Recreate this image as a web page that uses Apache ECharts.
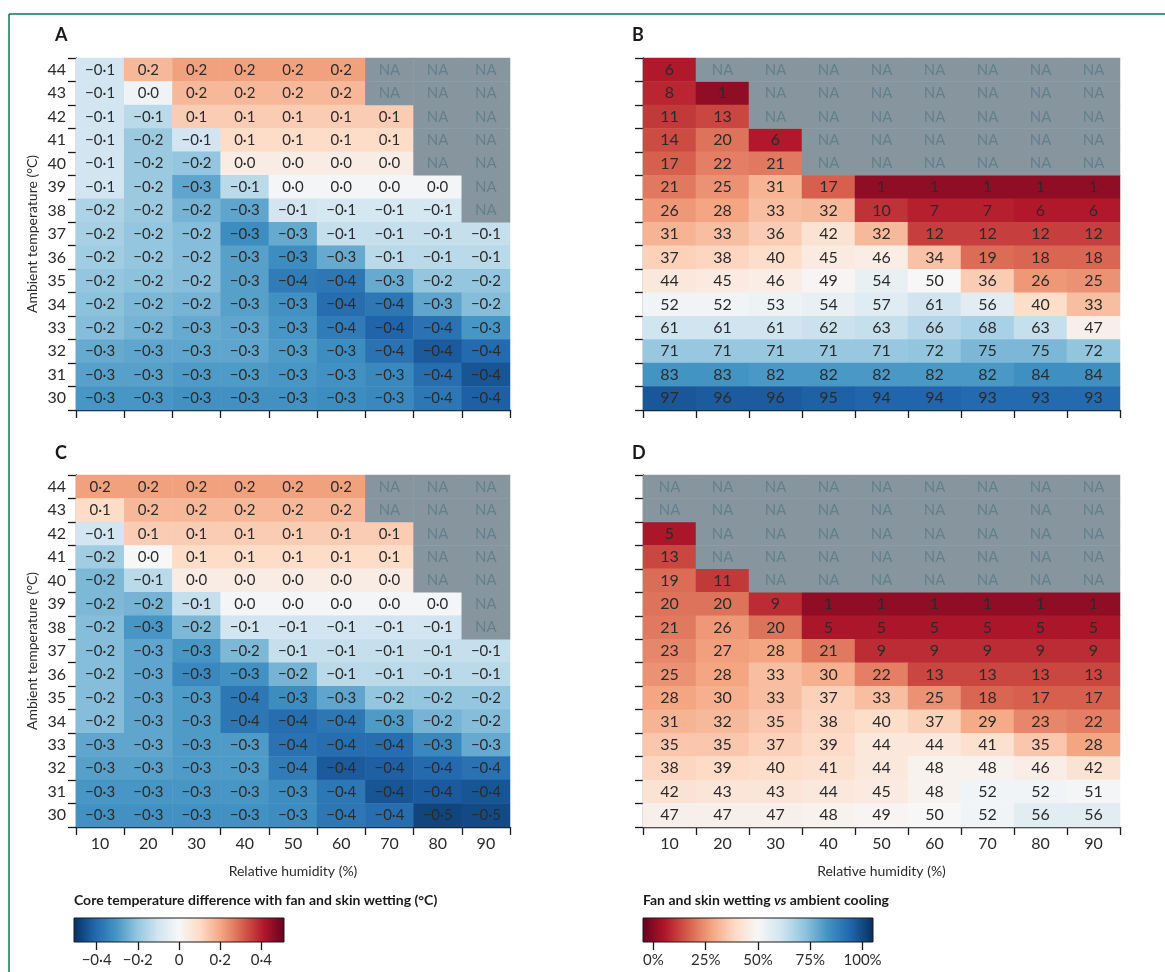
<!DOCTYPE html>
<html>
<head>
<meta charset="utf-8">
<script src="https://cdn.jsdelivr.net/npm/echarts@6/dist/echarts.min.js"></script>
<style>
html,body{margin:0;padding:0;background:#fff;}
#chart{width:1165px;height:972px;}
</style>
</head>
<body>
<div id="chart"></div>
<script>
// ---------- data ----------
const humidity = ['10','20','30','40','50','60','70','80','90'];
const temperatures = ['30','31','32','33','34','35','36','37','38','39','40','41','42','43','44']; // bottom -> top

// Panel A: core temperature difference (°C), rows 44 -> 30, null = NA
const panelA = [
  [-0.10, 0.17, 0.21, 0.21, 0.21, 0.21, null, null, null],
  [-0.10,-0.02, 0.17, 0.17, 0.17, 0.17, null, null, null],
  [-0.10,-0.14, 0.13, 0.13, 0.13, 0.13, 0.13, null, null],
  [-0.10,-0.19,-0.10, 0.10, 0.10, 0.10, 0.10, null, null],
  [-0.10,-0.19,-0.20, 0.04, 0.04, 0.04, 0.04, null, null],
  [-0.10,-0.19,-0.27,-0.14,-0.01,-0.01,-0.01,-0.01, null],
  [-0.16,-0.19,-0.24,-0.27,-0.10,-0.09,-0.09,-0.09, null],
  [-0.17,-0.20,-0.22,-0.32,-0.26,-0.12,-0.12,-0.12,-0.12],
  [-0.18,-0.20,-0.22,-0.28,-0.32,-0.26,-0.14,-0.14,-0.14],
  [-0.20,-0.21,-0.22,-0.28,-0.36,-0.37,-0.26,-0.20,-0.20],
  [-0.21,-0.23,-0.24,-0.28,-0.31,-0.39,-0.37,-0.27,-0.22],
  [-0.22,-0.24,-0.26,-0.27,-0.30,-0.36,-0.41,-0.38,-0.30],
  [-0.26,-0.27,-0.27,-0.27,-0.29,-0.32,-0.38,-0.43,-0.40],
  [-0.28,-0.28,-0.29,-0.29,-0.30,-0.31,-0.33,-0.39,-0.44],
  [-0.30,-0.30,-0.31,-0.31,-0.31,-0.32,-0.33,-0.37,-0.42]
];

// Panel B: fan and skin wetting vs ambient cooling (%), rows 44 -> 30
const panelB = [
  [ 6,null,null,null,null,null,null,null,null],
  [ 8,  1,null,null,null,null,null,null,null],
  [11, 13,null,null,null,null,null,null,null],
  [14, 20,  6,null,null,null,null,null,null],
  [17, 22, 21,null,null,null,null,null,null],
  [21, 25, 31, 17,  1,  1,  1,  1,  1],
  [26, 28, 33, 32, 10,  7,  7,  6,  6],
  [31, 33, 36, 42, 32, 12, 12, 12, 12],
  [37, 38, 40, 45, 46, 34, 19, 18, 18],
  [44, 45, 46, 49, 54, 50, 36, 26, 25],
  [52, 52, 53, 54, 57, 61, 56, 40, 33],
  [61, 61, 61, 62, 63, 66, 68, 63, 47],
  [71, 71, 71, 71, 71, 72, 75, 75, 72],
  [83, 83, 82, 82, 82, 82, 82, 84, 84],
  [97, 96, 96, 95, 94, 94, 93, 93, 93]
];

// Panel C: core temperature difference (°C), rows 44 -> 30
const panelC = [
  [ 0.21, 0.21, 0.21, 0.21, 0.21, 0.21, null, null, null],
  [ 0.10, 0.17, 0.17, 0.17, 0.17, 0.17, null, null, null],
  [-0.10, 0.13, 0.13, 0.13, 0.13, 0.13, 0.13, null, null],
  [-0.18, 0.00, 0.10, 0.10, 0.10, 0.10, 0.10, null, null],
  [-0.23,-0.14, 0.04, 0.04, 0.04, 0.04, 0.04, null, null],
  [-0.23,-0.24,-0.12,-0.01,-0.01,-0.01,-0.01,-0.01, null],
  [-0.22,-0.30,-0.23,-0.10,-0.10,-0.10,-0.10,-0.10, null],
  [-0.22,-0.27,-0.30,-0.23,-0.12,-0.12,-0.12,-0.12,-0.12],
  [-0.22,-0.27,-0.33,-0.31,-0.24,-0.14,-0.14,-0.14,-0.14],
  [-0.22,-0.27,-0.29,-0.37,-0.32,-0.27,-0.20,-0.20,-0.20],
  [-0.22,-0.27,-0.29,-0.37,-0.39,-0.37,-0.29,-0.24,-0.22],
  [-0.27,-0.27,-0.29,-0.29,-0.38,-0.39,-0.39,-0.33,-0.26],
  [-0.28,-0.28,-0.29,-0.29,-0.36,-0.43,-0.42,-0.40,-0.38],
  [-0.30,-0.30,-0.30,-0.30,-0.32,-0.37,-0.44,-0.43,-0.44],
  [-0.31,-0.31,-0.31,-0.31,-0.32,-0.37,-0.39,-0.47,-0.46]
];

// Panel D: fan and skin wetting vs ambient cooling (%), rows 44 -> 30
const panelD = [
  [null,null,null,null,null,null,null,null,null],
  [null,null,null,null,null,null,null,null,null],
  [ 5,null,null,null,null,null,null,null,null],
  [13,null,null,null,null,null,null,null,null],
  [19, 11,null,null,null,null,null,null,null],
  [20, 20,  9,  1,  1,  1,  1,  1,  1],
  [21, 26, 20,  5,  5,  5,  5,  5,  5],
  [23, 27, 28, 21,  9,  9,  9,  9,  9],
  [25, 28, 33, 30, 22, 13, 13, 13, 13],
  [28, 30, 33, 37, 33, 25, 18, 17, 17],
  [31, 32, 35, 38, 40, 37, 29, 23, 22],
  [35, 35, 37, 39, 44, 44, 41, 35, 28],
  [38, 39, 40, 41, 44, 48, 48, 46, 42],
  [42, 43, 43, 44, 45, 48, 52, 52, 51],
  [47, 47, 47, 48, 49, 50, 52, 56, 56]
];

const diffTicks = [-0.4, -0.2, 0, 0.2, 0.4];
const pctTicks = [0, 25, 50, 75, 100];
const diffRange = [-0.51, 0.51];
const pctRange = [-5, 105];

// ---------- helpers ----------
const RdBu = ['#67001f','#b2182b','#d6604d','#f4a582','#fddbc7','#f7f7f7','#d1e5f0','#92c5de','#4393c3','#2166ac','#053061'];
const BuRd = RdBu.slice().reverse();
const FONT = 'Lato, "Noto Sans", sans-serif';
const TXT = '#2b2b2b';
const AX = '#1a1a1a';

function split(rows){
  const v = [], na = [];
  rows.forEach((row, r) => row.forEach((val, c) => {
    const y = rows.length - 1 - r;
    if (val === null) na.push([c, y, 0]); else v.push([c, y, val]);
  }));
  return {v, na};
}
function fmtDiff(x){
  let s = (Math.round(x * 10) / 10).toFixed(1);
  if (s === '-0.0') s = '0.0';
  return s.replace('-', '\u2212').replace('.', '\u00b7');
}
function fmtTick(x){
  if (x === 0) return '0';
  return String(x).replace('-', '\u2212').replace('.', '\u00b7');
}

const A = split(panelA), B = split(panelB), C = split(panelC), D = split(panelD);

const mainGrids = [
  {left: 76,  top: 58,  width: 434, height: 352},
  {left: 643, top: 58,  width: 477, height: 352},
  {left: 76,  top: 475, width: 434, height: 352},
  {left: 643, top: 475, width: 477, height: 352}
];
const cbGrids = [
  {left: 74,  top: 918, width: 210, height: 24},
  {left: 643, top: 918, width: 230, height: 24}
];

const lineStyle = {color: AX, width: 1.3};
const xAxes = mainGrids.map((g, i) => ({
  type: 'category', gridIndex: i, data: humidity,
  axisLine: {show: true, lineStyle},
  axisTick: {show: true, length: 8, lineStyle},
  axisLabel: {show: i >= 2, fontSize: 16, color: TXT, fontFamily: FONT, margin: 9},
  splitLine: {show: false},
  name: i >= 2 ? 'Relative humidity (%)' : '',
  nameLocation: 'middle', nameGap: 37,
  nameTextStyle: {fontSize: 14, color: TXT, fontFamily: FONT}
}));
const yAxes = mainGrids.map((g, i) => ({
  type: 'category', gridIndex: i, data: temperatures,
  axisLine: {show: true, lineStyle},
  axisTick: {show: true, length: 8, lineStyle},
  axisLabel: {show: i % 2 === 0, fontSize: 16, color: TXT, fontFamily: FONT, margin: 10},
  splitLine: {show: false},
  name: i % 2 === 0 ? 'Ambient temperature (\u00b0C)' : '',
  nameLocation: 'middle', nameGap: 37, nameRotate: 90,
  nameTextStyle: {fontSize: 14, color: TXT, fontFamily: FONT}
}));
// colorbar axes
xAxes.push({
  type: 'value', gridIndex: 4, min: diffRange[0], max: diffRange[1],
  axisLine: {show: false}, splitLine: {show: false},
  axisTick: {show: true, length: 8, customValues: diffTicks, lineStyle},
  axisLabel: {show: true, customValues: diffTicks, formatter: fmtTick, fontSize: 15, color: TXT, fontFamily: FONT, margin: 11}
});
xAxes.push({
  type: 'value', gridIndex: 5, min: pctRange[0], max: pctRange[1],
  axisLine: {show: false}, splitLine: {show: false},
  axisTick: {show: true, length: 8, customValues: pctTicks, lineStyle},
  axisLabel: {show: true, customValues: pctTicks, formatter: v => v + '%', fontSize: 15, color: TXT, fontFamily: FONT, margin: 11}
});
yAxes.push({type: 'value', gridIndex: 4, min: 0, max: 1, show: false});
yAxes.push({type: 'value', gridIndex: 5, min: 0, max: 1, show: false});

function valSeries(idx, data, formatter, fs){
  return {
    type: 'heatmap', xAxisIndex: idx, yAxisIndex: idx, data,
    itemStyle: {borderWidth: 0},
    emphasis: {disabled: true},
    label: {show: true, formatter: p => formatter(p.value[2]), color: TXT, fontSize: fs, fontFamily: FONT}
  };
}
function naSeries(idx, data, fs){
  return {
    type: 'heatmap', xAxisIndex: idx, yAxisIndex: idx, data,
    itemStyle: {color: '#87969e', borderWidth: 0},
    emphasis: {disabled: true},
    label: {show: true, formatter: 'NA', color: '#62808b', fontSize: fs, fontFamily: FONT}
  };
}
function barSeries(idx, range, colors){
  const stops = colors.map((c, k) => ({offset: k / (colors.length - 1), color: c}));
  return {
    type: 'custom', xAxisIndex: idx, yAxisIndex: idx, data: [[range[0], range[1]]],
    silent: true,
    renderItem: (params, api) => {
      const p0 = api.coord([api.value(0), 0]);
      const p1 = api.coord([api.value(1), 1]);
      return {
        type: 'rect',
        shape: {x: p0[0], y: p1[1], width: p1[0] - p0[0], height: p0[1] - p1[1]},
        style: {fill: new echarts.graphic.LinearGradient(0, 0, 1, 0, stops), stroke: AX, lineWidth: 1}
      };
    }
  };
}
const fmtPct = v => String(v);

const series = [
  valSeries(0, A.v, fmtDiff, 15), naSeries(0, A.na, 15),
  valSeries(1, B.v, fmtPct, 16),  naSeries(1, B.na, 15),
  valSeries(2, C.v, fmtDiff, 15), naSeries(2, C.na, 15),
  valSeries(3, D.v, fmtPct, 16),  naSeries(3, D.na, 15),
  barSeries(4, diffRange, BuRd),
  barSeries(5, pctRange, RdBu)
];

const letter = (t, x, y) => ({type: 'text', left: x, top: y, style: {text: t, font: 'bold 18px ' + FONT, fill: '#1a1a1a'}});

const option = {
  animation: false,
  backgroundColor: '#fff',
  grid: mainGrids.concat(cbGrids),
  xAxis: xAxes,
  yAxis: yAxes,
  visualMap: [
    {type: 'continuous', show: false, min: diffRange[0], max: diffRange[1], dimension: 2, seriesIndex: [0, 4], inRange: {color: BuRd}},
    {type: 'continuous', show: false, min: pctRange[0], max: pctRange[1], dimension: 2, seriesIndex: [2, 6], inRange: {color: RdBu}}
  ],
  series,
  graphic: [
    {type: 'line', shape: {x1: 9, y1: 14, x2: 1165, y2: 14}, style: {stroke: '#0b7a4b', lineWidth: 1.5}},
    {type: 'line', shape: {x1: 9, y1: 14, x2: 9, y2: 972}, style: {stroke: '#0b7a4b', lineWidth: 1.5}},
    letter('A', 55, 26), letter('B', 632, 26), letter('C', 55, 444), letter('D', 632, 444),
    {type: 'text', left: 74, top: 893, style: {text: 'Core temperature difference with fan and skin wetting (\u00b0C)', font: 'bold 14px ' + FONT, fill: '#1a1a1a'}},
    {type: 'text', left: 643, top: 893, style: {
      text: '{b|Fan and skin wetting }{i|vs}{b| ambient cooling}',
      rich: {b: {font: 'bold 14px ' + FONT, fill: '#1a1a1a'}, i: {font: 'italic bold 14px ' + FONT, fill: '#1a1a1a'}}
    }}
  ]
};

const chart = echarts.init(document.getElementById('chart'), null, {renderer: 'canvas'});
chart.setOption(option);
</script>
</body>
</html>
